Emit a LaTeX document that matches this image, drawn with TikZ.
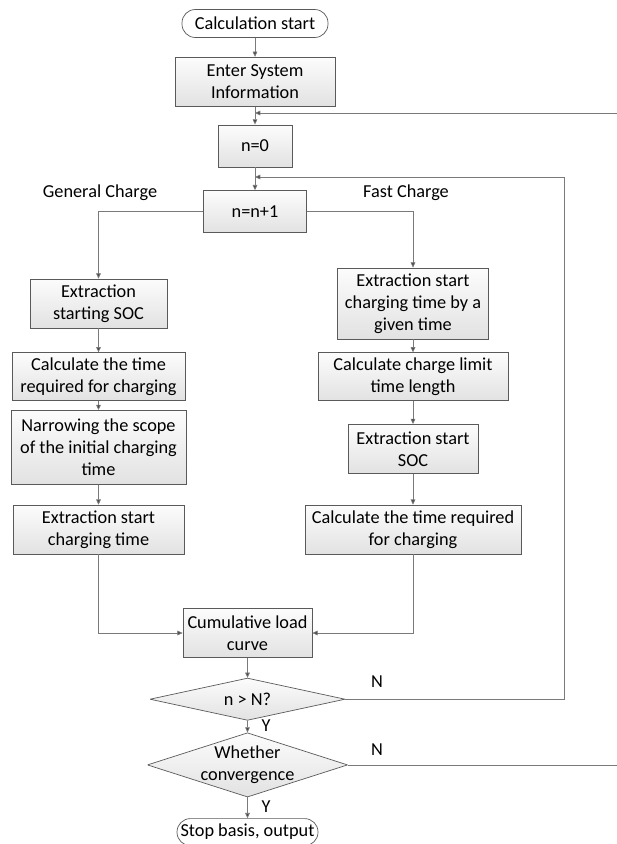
\documentclass[tikz,border=0pt]{standalone}
\usepackage{fontspec}
\setmainfont{Carlito}
\usetikzlibrary{positioning, arrows.meta, calc}
\definecolor{cLine}{HTML}{7A7A7A}
\definecolor{cBorder}{HTML}{5A5A5A}
\definecolor{cTip}{HTML}{4A4A4A}
\definecolor{cFillTop}{HTML}{FCFCFC}
\definecolor{cFillBot}{HTML}{E2E2E2}
\tikzset{
  procbox/.style={
    draw=cBorder, top color=cFillTop, bottom color=cFillBot,
    minimum width=#1, inner sep=2pt, align=center
  },
  termbox/.style={
    draw=cBorder, fill=white, rounded corners=0.4cm,
    minimum width=#1, minimum height=0.84cm, inner sep=1pt
  },
  decision/.style={
    rectangle, minimum width=#1, inner sep=0pt, align=center,
    path picture={
      \draw[draw=cBorder, top color=cFillTop, bottom color=cFillBot]
        (path picture bounding box.north) -- (path picture bounding box.east)
        -- (path picture bounding box.south) -- (path picture bounding box.west)
        -- cycle;
    }
  },
  flow/.style={
    draw=cLine, -{Triangle[length=4.5pt, width=4pt, fill=cTip]}
  },
  plain/.style={draw=cLine},
  branchlabel/.style={font=\fontsize{15.6}{18.6}\selectfont},
}

\begin{document}
\begin{tikzpicture}[
  every node/.append style={font=\fontsize{15.6}{18.6}\selectfont},
  line width=0.6pt
]
\clip (0,0) rectangle (18.51,-25.32);

% ---- top chain ----
\node[termbox=4.38cm] (start) at (7.65,-0.705) {Calculation start};
\node[procbox=4.8cm, minimum height=1.47cm, below=0.57cm of start] (info)
  {Enter System\\Information};
\node[procbox=2.22cm, minimum height=1.26cm, below=0.54cm of info] (n0) {n=0};
\node[procbox=3.09cm, minimum height=1.26cm, below=0.69cm of n0] (inc) {n=n+1};

\draw[flow] (start) -- (info);
\draw[flow] (info) -- (n0);
\draw[flow] (n0) -- (inc);

% ---- branch labels ----
\node[branchlabel] (genlbl) at (3.0,-5.79) {General Charge};
\node[branchlabel] (fastlbl) at (12.18,-5.79) {Fast Charge};

% ---- general charge ----
\node[procbox=4.11cm, minimum height=1.47cm] (g1) at (2.955,-9.105)
  {Extraction\\starting SOC};
\node[procbox=5.19cm, minimum height=1.44cm, below=0.72cm of g1] (g2)
  {Calculate the time\\required for charging};
\node[procbox=5.25cm, minimum height=2.22cm, below=0.27cm of g2] (g3)
  {Narrowing the scope\\of the initial charging\\time};
\node[procbox=5.13cm, minimum height=1.47cm, below=0.6cm of g3] (g4)
  {Extraction start\\charging time};

\draw[flow] (inc.west) -| (g1.north);
\draw[flow] (g1) -- (g2);
\draw[flow] (g2) -- (g3);
\draw[flow] (g3) -- (g4);

% ---- fast charge ----
\node[procbox=4.53cm, minimum height=2.13cm] (f1) at (12.39,-9.105)
  {Extraction start\\charging time by a\\given time};
\node[procbox=5.7cm, minimum height=1.44cm, below=0.39cm of f1] (f2)
  {Calculate charge limit\\time length};
\node[procbox=3.9cm, minimum height=1.47cm, below=0.69cm of f2] (f3)
  {Extraction start\\SOC};
\node[procbox=6.48cm, minimum height=1.47cm, below=0.93cm of f3] (f4)
  {Calculate the time required\\for charging};

\draw[flow] (inc.east) -| (f1.north);
\draw[flow] (f1) -- (f2);
\draw[flow] (f2) -- (f3);
\draw[flow] (f3) -- (f4);

% ---- merge and checks ----
\node[procbox=3.87cm, minimum height=1.47cm] (cum) at (7.425,-18.99)
  {Cumulative load\\curve};
\node[decision=5.85cm, minimum height=1.26cm, below=0.6cm of cum] (d1) {n > N?};
\node[decision=6.0cm, minimum height=1.92cm, below=0.36cm of d1] (d2)
  {Whether\\convergence};
\node[termbox=4.23cm, minimum height=0.81cm, below=0.63cm of d2] (stop)
  {Stop basis, output};

\draw[flow] (g4.south) |- (cum.west);
\draw[flow] (f4.south) |- (cum.east);
\draw[flow] (cum) -- (d1);
\draw[flow] (d1) -- (d2);
\draw[flow] (d2) -- (stop);
\node (y1lbl) at (7.98,-21.78) {Y};
\node (y2lbl) at (7.98,-24.21) {Y};

% ---- loops back ----
\coordinate (j1) at (7.65,-5.31);
\coordinate (r1) at (16.92,-5.31);
\coordinate (j2) at (7.65,-3.39);
\coordinate (r2) at (18.75,-3.39);
\draw[plain] (d1.east) -| (r1);
\draw[flow] (r1) -- (j1);
\draw[plain] (d2.east) -| (r2);
\draw[flow] (r2) -- (j2);
\node (n1lbl) at (11.31,-20.46) {N};
\node (n2lbl) at (11.31,-22.5) {N};

\end{tikzpicture}
\end{document}
